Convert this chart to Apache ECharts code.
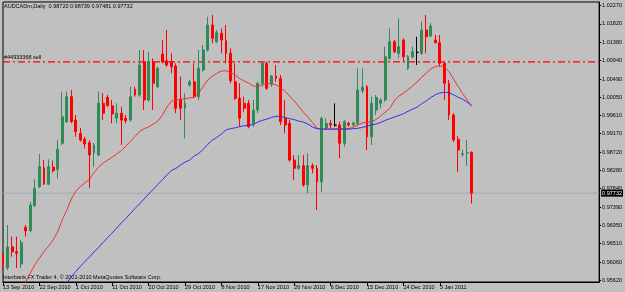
<!DOCTYPE html>
<html>
<head>
<meta charset="utf-8">
<title>AUDCADm,Daily</title>
<script src="https://cdn.jsdelivr.net/npm/echarts@6/dist/echarts.min.js"></script>
<style>
  html, body { margin: 0; padding: 0; background: #c0c0c0; }
  #chart { width: 625px; height: 292px; }
</style>
</head>
<body>
<div id="chart"></div>
<script>
// daily bars from 13 Sep 2010 (Sunday bars included)
const opens = [
  0.96237,0.95923,0.96438,0.96317,0.96020,0.96906,0.96824,0.97428,0.97887,0.98346,
  0.97945,0.98356,0.98308,0.98936,0.99458,1.00062,0.99499,0.99178,0.99033,0.98950,
  0.98702,0.98653,0.99902,1.00047,0.99844,0.99540,0.99661,0.99540,0.99499,1.00241,
  1.00103,1.00907,0.99982,1.00907,1.00303,1.01093,1.00932,1.00907,1.00803,0.99999,
  0.99782,1.00344,1.00424,1.00062,1.00707,1.01190,1.01794,1.01391,1.01594,1.01415,
  1.01110,1.00424,1.00023,0.99902,0.99902,0.99419,0.99740,1.00386,1.00869,1.00369,
  1.00562,1.00506,0.99540,0.99419,0.98532,0.98332,0.98395,0.97928,0.98395,0.98332,
  0.98008,0.99306,0.99419,0.99378,0.99378,0.98936,0.99419,0.99378,0.99419,1.00207,
  1.00303,0.99095,0.99740,0.99902,0.99982,1.00990,1.01391,1.01110,1.01432,1.00748,
  1.01028,1.01134,1.01110,1.01673,1.01528,1.01432,1.01366,1.00869,1.00386,0.99620,
  0.99033,0.98670,0.98702,0.98720
];
const closes = [
  0.96020,0.96431,0.96317,0.96278,0.96534,0.96817,0.97445,0.97849,0.98371,0.97953,
  0.98371,0.98274,0.98791,0.99579,1.00062,0.99458,0.99216,0.99016,0.98919,0.98653,
  0.98895,0.99902,0.99661,0.99844,0.99644,0.99661,0.99499,0.99482,1.00062,1.00103,
  1.00828,0.99982,1.00907,1.00386,1.00748,1.00907,1.00828,1.00787,0.99782,0.99782,
  0.99902,1.00424,1.00062,1.00748,1.01190,1.01794,1.01473,1.01608,1.01432,1.01110,
  1.00448,1.00023,0.99540,0.99782,0.99337,0.99740,1.00386,1.00869,1.00265,1.00562,
  1.00506,0.99458,0.99378,0.98532,0.98332,0.98395,0.97928,0.98395,0.98332,0.98008,
  0.99540,0.99419,0.99378,0.99378,0.98936,0.99458,0.99378,0.99426,1.00224,1.00289,
  0.99095,0.99902,1.00047,0.99982,1.01028,1.01391,1.01149,1.01270,1.01028,1.01028,
  1.01149,1.01134,1.01673,1.01511,1.01770,1.01366,1.00869,1.00386,0.99620,0.99016,
  0.98774,0.98685,0.98714,0.97732
];
const lows = [
  0.95875,0.95875,0.96196,0.95923,0.95923,0.96679,0.96800,0.97404,0.97849,0.97928,
  0.97928,0.98226,0.98090,0.98895,0.99426,0.99419,0.99095,0.98975,0.98815,0.97856,
  0.98371,0.98629,0.99499,0.99820,0.99419,0.99419,0.98895,0.99419,0.99458,1.00062,
  1.00062,0.99740,0.99941,0.99740,1.00265,1.00869,1.00787,1.00627,0.99661,0.99499,
  0.99057,1.00303,1.00023,0.99982,1.00666,1.01149,1.01352,1.01352,1.01110,1.00869,
  1.00386,0.99982,0.99337,0.99699,0.99298,0.99337,0.99661,1.00303,1.00224,1.00303,
  1.00424,0.99378,0.99178,0.98491,0.98049,0.98291,0.97887,0.97728,0.98211,0.97324,
  0.97767,0.99257,0.99306,0.99337,0.98574,0.98854,0.99337,0.99337,0.99378,1.00144,
  0.98774,0.98895,0.99620,0.99782,0.99941,1.00948,1.01110,1.00990,1.00907,1.00707,
  1.00990,1.00828,1.01069,1.01110,1.01504,1.01352,1.00787,0.99982,0.99499,0.98967,
  0.98250,0.98612,0.98387,0.97481
];
const highs = [
  0.96286,0.96962,0.96679,0.96679,0.96600,0.96962,0.97525,0.98066,0.98677,0.98532,
  0.98549,0.98516,0.99016,1.00183,1.00183,1.00224,0.99620,0.99306,0.99095,0.99016,
  0.98943,1.00183,1.00144,1.00103,0.99982,0.99902,0.99820,0.99620,1.00303,1.00303,
  1.01190,1.01190,1.01149,1.00990,1.00787,1.01432,1.01673,1.01110,1.00869,1.00545,
  1.00144,1.00465,1.00869,1.01190,1.01311,1.01995,1.02036,1.01673,1.01714,1.01794,
  1.01231,1.00869,1.00386,1.00062,0.99982,0.99982,1.00424,1.00907,1.00907,1.00586,
  1.00828,1.00586,0.99982,0.99499,0.98653,0.98653,0.98653,0.98694,0.98453,0.98412,
  0.99579,0.99540,0.99499,0.99902,0.99458,0.99499,0.99458,0.99458,1.00748,1.00748,
  1.00344,1.00062,1.00103,1.00023,1.01270,1.01714,1.01432,1.01956,1.01473,1.01069,
  1.01270,1.01511,1.01874,1.02036,1.01835,1.01552,1.01552,1.00907,1.00465,0.99661,
  0.99112,0.98774,0.99016,0.98739
];

// moving averages as drawn (red = fast, blue = slow)
const maFast = [
  null,null,null,null,0.9534,0.9559,0.9580,0.9600,0.9616,0.9632,
  0.9645,0.9660,0.9679,0.9708,0.9732,0.9759,0.9778,0.9789,0.9798,0.9807,
  0.9823,0.9836,0.9846,0.9853,0.9860,0.9868,0.9876,0.9887,0.9898,0.9910,
  0.9922,0.9929,0.9933,0.9940,0.9947,0.9961,0.9981,0.9995,0.9998,0.9999,
  1.0002,1.0003,1.0005,1.0015,1.0031,1.0047,1.0055,1.0063,1.0068,1.0069,
  1.0065,1.0059,1.0050,1.0044,1.0039,1.0032,1.0031,1.0036,1.0038,1.0037,
  1.0035,1.0028,1.0019,1.0008,0.9996,0.9983,0.9969,0.9957,0.9944,0.9930,
  0.9928,0.9928,0.9928,0.9928,0.9928,0.9928,0.9929,0.9933,0.9938,0.9943,
  0.9944,0.9946,0.9951,0.9960,0.9969,0.9978,0.9996,1.0008,1.0015,1.0023,
  1.0032,1.0042,1.0053,1.0063,1.0073,1.0079,1.0081,1.0078,1.0067,1.0049,
  1.0031,1.0014,0.9998,0.9983
];
const maSlow = [
  null,null,null,null,null,null,null,null,null,null,
  null,null,null,0.9544,0.9556,0.9571,0.9584,0.9596,0.9608,0.9619,
  0.9631,0.9642,0.9654,0.9666,0.9677,0.9689,0.9701,0.9712,0.9724,0.9736,
  0.9747,0.9759,0.9771,0.9782,0.9794,0.9805,0.9817,0.9828,0.9833,0.9841,
  0.9848,0.9853,0.9863,0.9869,0.9879,0.9891,0.9901,0.9908,0.9916,0.9926,
  0.9929,0.9931,0.9934,0.9936,0.9937,0.9939,0.9945,0.9949,0.9952,0.9956,
  0.9959,0.9958,0.9956,0.9953,0.9951,0.9947,0.9945,0.9940,0.9933,0.9929,
  0.9928,0.9928,0.9928,0.9928,0.9928,0.9928,0.9928,0.9929,0.9930,0.9932,
  0.9935,0.9938,0.9940,0.9944,0.9949,0.9953,0.9957,0.9961,0.9965,0.9971,
  0.9976,0.9981,0.9989,0.9996,1.0004,1.0011,1.0015,1.0017,1.0016,1.0011,
  1.0005,1.0000,0.9993,0.9985
];

const dateLabels = ['13 Sep 2010','22 Sep 2010','1 Oct 2010','11 Oct 2010','20 Oct 2010',
  '29 Oct 2010','8 Nov 2010','17 Nov 2010','26 Nov 2010','6 Dec 2010','15 Dec 2010',
  '24 Dec 2010','3 Jan 2011'];
const priceTicks = [1.02270,1.01820,1.01380,1.00940,1.00490,1.00050,0.99610,0.99170,
  0.98720,0.98280,0.97840,0.97390,0.96950,0.96510,0.96060,0.95620];

const sellLevel = 1.00903;
const lastPrice = 0.97732;

const barsPerLabel = 8;
const slotCount = 132;   // bars + empty space on the right (chart shift)
const categories = [];
for (let i = 0; i < slotCount; i++) categories.push(String(i));

const candles = opens.map((o, i) => [o, closes[i], lows[i], highs[i]]);

const FONT = '"Liberation Sans", Arial, sans-serif';
const isLabelSlot = (i) => i % barsPerLabel === 0 && i / barsPerLabel < dateLabels.length;

const chart = echarts.init(document.getElementById('chart'), null, { renderer: 'canvas' });

chart.setOption({
  backgroundColor: '#c0c0c0',
  animation: false,
  textStyle: { fontFamily: FONT },
  grid: {
    left: 2, top: 2, right: 22, bottom: 10,
    show: true, borderColor: '#000', borderWidth: 1, backgroundColor: '#c0c0c0'
  },
  xAxis: {
    type: 'category',
    data: categories,
    boundaryGap: false,
    axisLine: { lineStyle: { color: '#000', width: 1 } },
    axisTick: { show: true, length: 4, interval: isLabelSlot, lineStyle: { color: '#000' } },
    axisLabel: {
      interval: isLabelSlot,
      formatter: (v, i) => dateLabels[i / barsPerLabel] || '',
      align: 'left',
      margin: 2,
      color: '#000',
      fontSize: 5.5,
      fontFamily: FONT
    },
    splitLine: { show: false }
  },
  yAxis: {
    type: 'value',
    position: 'right',
    min: 0.95585,
    max: 1.02350,
    axisLine: { show: true, lineStyle: { color: '#000', width: 1 } },
    axisTick: { show: true, length: 2, customValues: priceTicks, lineStyle: { color: '#000' } },
    axisLabel: {
      customValues: priceTicks,
      formatter: (v) => v.toFixed(5),
      color: '#000',
      fontSize: 5.5,
      margin: 3,
      fontFamily: FONT
    },
    splitLine: { show: false }
  },
  series: [
    {
      // order level line with its ticket label
      type: 'line',
      data: [
        { value: [0, sellLevel], label: { show: true, formatter: '#44933368 sell', position: [1, -7],
          color: '#000', fontSize: 5.5, fontFamily: FONT } },
        [slotCount - 1, sellLevel]
      ],
      symbol: 'circle',
      symbolSize: 0,
      showSymbol: true,
      silent: true,
      z: 1,
      color: '#ff0000',
      itemStyle: { color: '#ff0000' },
      lineStyle: { color: '#ff0000', width: 1.3, type: [7, 3, 2, 3], opacity: 1 }
    },
    {
      // current bid line
      type: 'line',
      data: [[0, lastPrice], [slotCount - 1, lastPrice]],
      symbol: 'none',
      silent: true,
      z: 1,
      lineStyle: { color: '#9fa7b6', width: 1 },
      endLabel: {
        show: true, formatter: lastPrice.toFixed(5), distance: 2,
        color: '#fff', backgroundColor: '#000', padding: [1, 1, 0, 1], fontSize: 5.5, fontFamily: FONT
      }
    },
    {
      type: 'candlestick',
      data: candles,
      barWidth: 2.4,
      clip: true,
      z: 2,
      itemStyle: {
        color: '#2e8b57',
        color0: '#ff0000',
        borderColor: '#2e8b57',
        borderColor0: '#ff0000',
        borderColorDoji: '#000000',
        borderWidth: 1
      }
    },
    {
      type: 'line',
      data: maFast,
      showSymbol: false,
      symbol: 'none',
      clip: true,
      z: 3,
      lineStyle: { color: '#f03030', width: 1 }
    },
    {
      type: 'line',
      data: maSlow,
      showSymbol: false,
      symbol: 'none',
      clip: true,
      z: 3,
      lineStyle: { color: '#3030f0', width: 1 }
    }
  ],
  graphic: [
    {
      type: 'text', left: 4, top: 3,
      style: { text: 'AUDCADm,Daily  0.98720 0.98739 0.97481 0.97732', font: '5.5px ' + FONT, fill: '#000' }
    },
    {
      type: 'text', left: 3, top: 274,
      style: { text: 'Interbank FX Trader 4, \u00a9 2001-2010 MetaQuotes Software Corp.', font: '5.5px ' + FONT, fill: '#000' }
    }
  ]
});
</script>
</body>
</html>
